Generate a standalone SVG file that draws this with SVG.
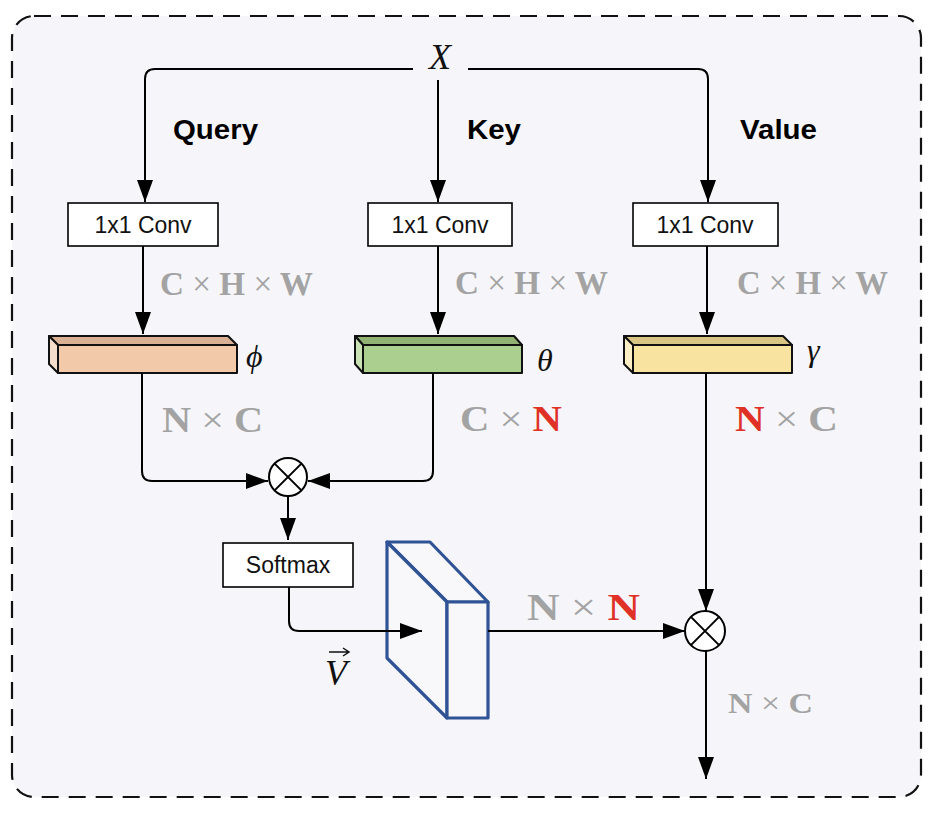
<svg xmlns="http://www.w3.org/2000/svg" width="942" height="814" viewBox="0 0 942 814">
<defs>
<marker id="ah" viewBox="0 0 22 16" refX="22" refY="8" markerWidth="22" markerHeight="16" markerUnits="userSpaceOnUse" orient="auto">
<path d="M0,0 L22,8 L0,16 Z" fill="#000"/>
</marker>
<style>
.ln{fill:none;stroke:#000;stroke-width:2}
.box{fill:#fff;stroke:#000;stroke-width:1.6}
.bt{font-family:"Liberation Sans",Arial,sans-serif;font-size:23px;fill:#111;text-anchor:middle}
.hd{font-family:"Liberation Sans",Arial,sans-serif;font-size:28px;font-weight:bold;fill:#000}
.dim{font-family:"Liberation Serif","Times New Roman",serif;font-weight:bold;fill:#a3a3a3}
.x{font-weight:normal}
.red{fill:#e03127}
.gk{font-family:"Liberation Serif","DejaVu Serif",serif;font-style:italic;fill:#111}
.bar{stroke:#111;stroke-width:2;stroke-linejoin:round}
.blue{fill:#f8f8fb;stroke:#2f5395;stroke-width:3.2;stroke-linejoin:round}
</style>
</defs>
<rect width="942" height="814" fill="#ffffff"/>
<rect x="12" y="16" width="909" height="781" rx="22" fill="#f6f6fa" stroke="#111" stroke-width="2.2" stroke-dasharray="17 10"/>

<g id="input-x"><text x="440" y="69" class="gk" font-size="36" text-anchor="middle">X</text></g>

<g id="labels">
<text x="173" y="139" class="hd" textLength="85" lengthAdjust="spacingAndGlyphs">Query</text>
<text x="467" y="139" class="hd" textLength="54" lengthAdjust="spacingAndGlyphs">Key</text>
<text x="740" y="139" class="hd" textLength="77" lengthAdjust="spacingAndGlyphs">Value</text>
</g>

<g id="conv-query"><rect x="68" y="203" width="150" height="43" class="box"/><text x="143" y="233" class="bt">1x1 Conv</text></g>
<g id="conv-key"><rect x="368" y="203" width="144" height="43" class="box"/><text x="440" y="233" class="bt">1x1 Conv</text></g>
<g id="conv-value"><rect x="633" y="203" width="145" height="43" class="box"/><text x="705" y="233" class="bt">1x1 Conv</text></g>

<g id="bar-phi">
<polygon points="49,336 228,336 237,345 58,345" fill="#d9b094" class="bar"/>
<polygon points="49,336 58,345 58,373 49,364" fill="#f4ddcb" class="bar"/>
<rect x="58" y="345" width="179" height="28" fill="#f2caaa" class="bar"/>
<text x="246" y="367" class="gk" font-size="32">ϕ</text>
</g>
<g id="bar-theta">
<polygon points="355,336 514,336 522,345 363,345" fill="#92b274" class="bar"/>
<polygon points="355,336 363,345 363,373 355,364" fill="#c9e2b3" class="bar"/>
<rect x="363" y="345" width="159" height="28" fill="#abcf8f" class="bar"/>
<text x="537" y="371" class="gk" font-size="32">θ</text>
</g>
<g id="bar-gamma">
<polygon points="624,336 783,336 792,345 633,345" fill="#d9c583" class="bar"/>
<polygon points="624,336 633,345 633,373 624,364" fill="#fcefc6" class="bar"/>
<rect x="633" y="345" width="159" height="28" fill="#f9e3a0" class="bar"/>
<text x="807" y="361" class="gk" font-size="32">γ</text>
</g>

<g id="mul-1"><circle cx="288" cy="477" r="19" fill="#fff" stroke="#000" stroke-width="2"/><path d="M274.6,463.6 L301.4,490.4 M301.4,463.6 L274.6,490.4" class="ln" stroke-width="1.6"/></g>
<g id="softmax"><rect x="223" y="543" width="130" height="44" class="box"/><text x="288" y="573" class="bt" font-size="22">Softmax</text></g>
<g id="attention-map">
<polygon points="387,542 430,542 488,602 447,602" class="blue"/>
<polygon points="387,542 447,602 447,718 387,658" class="blue"/>
<rect x="447" y="602" width="41" height="116" class="blue"/>
</g>
<g id="mul-2"><circle cx="705" cy="631" r="20" fill="#fff" stroke="#000" stroke-width="2"/><path d="M690.9,616.9 L719.1,645.1 M719.1,616.9 L690.9,645.1" class="ln" stroke-width="1.6"/></g>

<g id="connectors">
<path d="M413,69 H155 Q145,69 145,79 V202" class="ln" marker-end="url(#ah)"/>
<path d="M438,80 V202" class="ln" marker-end="url(#ah)"/>
<path d="M468,69 H698 Q708,69 708,79 V202" class="ln" marker-end="url(#ah)"/>
<path d="M143,246 V334" class="ln" marker-end="url(#ah)"/>
<path d="M438,246 V334" class="ln" marker-end="url(#ah)"/>
<path d="M707,246 V334" class="ln" marker-end="url(#ah)"/>
<path d="M142,373 V471 Q142,481 152,481 H268" class="ln" marker-end="url(#ah)"/>
<path d="M433,373 V471 Q433,481 423,481 H308" class="ln" marker-end="url(#ah)"/>
<path d="M288,496 V540" class="ln" marker-end="url(#ah)"/>
<path d="M289,587 V621 Q289,631 299,631 H422" class="ln" marker-end="url(#ah)"/>
<path d="M488,631 H685" class="ln" marker-end="url(#ah)"/>
<path d="M706,373 V611" class="ln" marker-end="url(#ah)"/>
<path d="M706,651 V779" class="ln" marker-end="url(#ah)"/>
</g>

<g id="dims">
<text x="160" y="295" class="dim" font-size="33" textLength="153" lengthAdjust="spacingAndGlyphs">C <tspan class="x">×</tspan> H <tspan class="x">×</tspan> W</text>
<text x="455" y="294" class="dim" font-size="33" textLength="153" lengthAdjust="spacingAndGlyphs">C <tspan class="x">×</tspan> H <tspan class="x">×</tspan> W</text>
<text x="737" y="294" class="dim" font-size="33" textLength="151" lengthAdjust="spacingAndGlyphs">C <tspan class="x">×</tspan> H <tspan class="x">×</tspan> W</text>
<text x="162" y="432" class="dim" font-size="36" textLength="101" lengthAdjust="spacingAndGlyphs">N <tspan class="x">×</tspan> C</text>
<text x="460" y="431" class="dim" font-size="36" textLength="102" lengthAdjust="spacingAndGlyphs">C <tspan class="x">×</tspan> <tspan class="red">N</tspan></text>
<text x="735" y="431" class="dim" font-size="36" textLength="103" lengthAdjust="spacingAndGlyphs"><tspan class="red">N</tspan> <tspan class="x">×</tspan> C</text>
<text x="527" y="620" class="dim" font-size="38" textLength="113" lengthAdjust="spacingAndGlyphs">N <tspan class="x">×</tspan> <tspan class="red">N</tspan></text>
<text x="728" y="713" class="dim" font-size="30" textLength="85" lengthAdjust="spacingAndGlyphs">N <tspan class="x">×</tspan> C</text>
</g>

<g id="v-label">
<text x="325" y="685" class="gk" font-size="36">V</text>
<path d="M329,652 H348 M343,648 L349,652 L343,656" fill="none" stroke="#111" stroke-width="1.5"/>
</g>
</svg>
